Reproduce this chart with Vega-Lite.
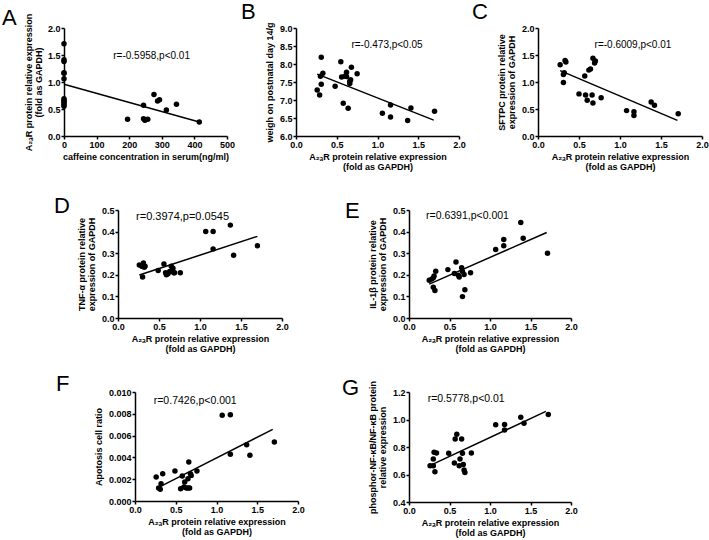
{
  "$schema": "https://vega.github.io/schema/vega-lite/v6.json",
  "padding": {"left": 2, "top": 0, "right": 2, "bottom": 2},
  "background": "white",
  "config": {
    "view": {"stroke": null},
    "font": "Liberation Sans",
    "axis": {"domainColor": "black", "domainWidth": 1.5, "tickColor": "black", "tickWidth": 1.5, "tickSize": 3, "labelPadding": 1, "labelFont": "Liberation Sans", "labelFontSize": 9, "labelFontWeight": "bold", "labelColor": "black", "titleFont": "Liberation Sans", "titleFontSize": 9, "titleFontWeight": "bold", "titleColor": "black", "grid": false, "titleLineHeight": 10, "labelFlush": false, "labelOverlap": false},
    "axisX": {"titlePadding": 3},
    "axisY": {"titlePadding": 5},
    "title": {"font": "Liberation Sans", "fontSize": 22, "fontWeight": "normal", "color": "black", "anchor": "start", "frame": "group", "baseline": "alphabetic"},
    "text": {"font": "Liberation Sans", "fontSize": 10, "color": "black"}
  },
  "datasets": {
    "points": [
      {"panel":"A","x":0,"y":1.71},{"panel":"A","x":0,"y":1.41},{"panel":"A","x":0,"y":1.38},{"panel":"A","x":0,"y":1.17},{"panel":"A","x":0,"y":1.16},{"panel":"A","x":0,"y":1.06},{"panel":"A","x":0,"y":0.69},{"panel":"A","x":0,"y":0.66},{"panel":"A","x":0,"y":0.64},{"panel":"A","x":0,"y":0.61},{"panel":"A","x":0,"y":0.58},{"panel":"A","x":0,"y":0.55},
      {"panel":"A","x":195,"y":0.31},{"panel":"A","x":244,"y":0.57},{"panel":"A","x":244,"y":0.32},{"panel":"A","x":248,"y":0.29},{"panel":"A","x":250,"y":0.30},{"panel":"A","x":257,"y":0.31},{"panel":"A","x":276,"y":0.77},{"panel":"A","x":287,"y":0.65},{"panel":"A","x":293,"y":0.67},{"panel":"A","x":314,"y":0.48},{"panel":"A","x":345,"y":0.59},{"panel":"A","x":415,"y":0.26},
      {"panel":"B","x":0.26,"y":7.28},{"panel":"B","x":0.29,"y":7.14},{"panel":"B","x":0.30,"y":7.66},{"panel":"B","x":0.31,"y":7.44},{"panel":"B","x":0.31,"y":8.19},{"panel":"B","x":0.33,"y":7.74},{"panel":"B","x":0.48,"y":7.38},{"panel":"B","x":0.55,"y":8.06},{"panel":"B","x":0.56,"y":7.64},{"panel":"B","x":0.58,"y":6.91},{"panel":"B","x":0.60,"y":7.66},{"panel":"B","x":0.62,"y":7.77},{"panel":"B","x":0.62,"y":7.65},{"panel":"B","x":0.64,"y":6.77},{"panel":"B","x":0.66,"y":7.52},{"panel":"B","x":0.67,"y":7.56},{"panel":"B","x":0.66,"y":7.46},{"panel":"B","x":0.68,"y":7.91},{"panel":"B","x":0.75,"y":7.73},{"panel":"B","x":1.06,"y":6.63},{"panel":"B","x":1.16,"y":6.86},{"panel":"B","x":1.16,"y":6.53},{"panel":"B","x":1.37,"y":6.43},{"panel":"B","x":1.41,"y":6.78},{"panel":"B","x":1.70,"y":6.69},
      {"panel":"C","x":0.27,"y":1.32},{"panel":"C","x":0.31,"y":1.14},{"panel":"C","x":0.31,"y":0.99},{"panel":"C","x":0.32,"y":1.17},{"panel":"C","x":0.33,"y":1.40},{"panel":"C","x":0.34,"y":1.37},{"panel":"C","x":0.50,"y":0.78},{"panel":"C","x":0.57,"y":1.11},{"panel":"C","x":0.58,"y":0.76},{"panel":"C","x":0.60,"y":0.66},{"panel":"C","x":0.62,"y":1.22},{"panel":"C","x":0.64,"y":1.24},{"panel":"C","x":0.66,"y":0.76},{"panel":"C","x":0.67,"y":1.44},{"panel":"C","x":0.67,"y":0.61},{"panel":"C","x":0.69,"y":1.35},{"panel":"C","x":0.70,"y":1.39},{"panel":"C","x":0.77,"y":0.71},{"panel":"C","x":1.08,"y":0.47},{"panel":"C","x":1.17,"y":0.45},{"panel":"C","x":1.17,"y":0.38},{"panel":"C","x":1.38,"y":0.63},{"panel":"C","x":1.42,"y":0.57},{"panel":"C","x":1.71,"y":0.41},
      {"panel":"D","x":0.26,"y":0.245},{"panel":"D","x":0.29,"y":0.24},{"panel":"D","x":0.30,"y":0.19},{"panel":"D","x":0.31,"y":0.255},{"panel":"D","x":0.32,"y":0.235},{"panel":"D","x":0.33,"y":0.24},{"panel":"D","x":0.49,"y":0.22},{"panel":"D","x":0.56,"y":0.25},{"panel":"D","x":0.58,"y":0.21},{"panel":"D","x":0.59,"y":0.20},{"panel":"D","x":0.61,"y":0.205},{"panel":"D","x":0.63,"y":0.215},{"panel":"D","x":0.65,"y":0.24},{"panel":"D","x":0.66,"y":0.22},{"panel":"D","x":0.67,"y":0.23},{"panel":"D","x":0.68,"y":0.21},{"panel":"D","x":0.69,"y":0.21},{"panel":"D","x":0.76,"y":0.21},{"panel":"D","x":1.07,"y":0.40},{"panel":"D","x":1.16,"y":0.40},{"panel":"D","x":1.16,"y":0.32},{"panel":"D","x":1.37,"y":0.43},{"panel":"D","x":1.41,"y":0.29},{"panel":"D","x":1.70,"y":0.335},
      {"panel":"E","x":0.25,"y":0.175},{"panel":"E","x":0.28,"y":0.18},{"panel":"E","x":0.30,"y":0.186},{"panel":"E","x":0.31,"y":0.195},{"panel":"E","x":0.30,"y":0.142},{"panel":"E","x":0.32,"y":0.127},{"panel":"E","x":0.33,"y":0.216},{"panel":"E","x":0.48,"y":0.224},{"panel":"E","x":0.56,"y":0.206},{"panel":"E","x":0.58,"y":0.259},{"panel":"E","x":0.61,"y":0.198},{"panel":"E","x":0.62,"y":0.19},{"panel":"E","x":0.65,"y":0.233},{"panel":"E","x":0.66,"y":0.216},{"panel":"E","x":0.66,"y":0.099},{"panel":"E","x":0.68,"y":0.201},{"panel":"E","x":0.69,"y":0.131},{"panel":"E","x":0.76,"y":0.209},{"panel":"E","x":1.07,"y":0.317},{"panel":"E","x":1.17,"y":0.335},{"panel":"E","x":1.17,"y":0.363},{"panel":"E","x":1.38,"y":0.442},{"panel":"E","x":1.41,"y":0.369},{"panel":"E","x":1.71,"y":0.300},
      {"panel":"F","x":0.26,"y":0.0022},{"panel":"F","x":0.29,"y":0.00119},{"panel":"F","x":0.31,"y":0.00107},{"panel":"F","x":0.32,"y":0.00159},{"panel":"F","x":0.34,"y":0.00251},{"panel":"F","x":0.49,"y":0.00275},{"panel":"F","x":0.56,"y":0.00113},{"panel":"F","x":0.58,"y":0.00229},{"panel":"F","x":0.60,"y":0.00128},{"panel":"F","x":0.61,"y":0.00174},{"panel":"F","x":0.63,"y":0.00119},{"panel":"F","x":0.65,"y":0.00119},{"panel":"F","x":0.66,"y":0.00358},{"panel":"F","x":0.65,"y":0.00205},{"panel":"F","x":0.67,"y":0.00119},{"panel":"F","x":0.68,"y":0.00251},{"panel":"F","x":0.69,"y":0.00235},{"panel":"F","x":0.76,"y":0.00275},{"panel":"F","x":1.07,"y":0.00786},{"panel":"F","x":1.17,"y":0.00792},{"panel":"F","x":1.17,"y":0.00428},{"panel":"F","x":1.37,"y":0.00517},{"panel":"F","x":1.41,"y":0.00419},{"panel":"F","x":1.71,"y":0.00541},
      {"panel":"G","x":0.26,"y":0.663},{"panel":"G","x":0.30,"y":0.712},{"panel":"G","x":0.30,"y":0.663},{"panel":"G","x":0.31,"y":0.761},{"panel":"G","x":0.32,"y":0.620},{"panel":"G","x":0.34,"y":0.756},{"panel":"G","x":0.49,"y":0.754},{"panel":"G","x":0.56,"y":0.683},{"panel":"G","x":0.57,"y":0.859},{"panel":"G","x":0.59,"y":0.893},{"panel":"G","x":0.62,"y":0.663},{"panel":"G","x":0.63,"y":0.712},{"panel":"G","x":0.65,"y":0.859},{"panel":"G","x":0.66,"y":0.754},{"panel":"G","x":0.67,"y":0.673},{"panel":"G","x":0.68,"y":0.632},{"panel":"G","x":0.69,"y":0.615},{"panel":"G","x":0.77,"y":0.756},{"panel":"G","x":1.07,"y":0.961},{"panel":"G","x":1.18,"y":0.963},{"panel":"G","x":1.18,"y":0.924},{"panel":"G","x":1.38,"y":1.017},{"panel":"G","x":1.42,"y":0.973},{"panel":"G","x":1.72,"y":1.037}
    ],
    "fits": [
      {"panel":"A","x":0,"y":0.957,"x2":415,"y2":0.26,"tx":151,"ty":1.49,"label":"r=-0.5958,p<0.01"},
      {"panel":"B","x":0.26,"y":7.72,"x2":1.69,"y2":6.44,"tx":0.68,"ty":8.54,"label":"r=-0.473,p<0.05"},
      {"panel":"C","x":0.27,"y":1.21,"x2":1.70,"y2":0.29,"tx":0.69,"ty":1.68,"label":"r=-0.6009,p<0.01"},
      {"panel":"D","x":0.26,"y":0.199,"x2":1.70,"y2":0.378,"tx":0.22,"ty":0.466,"label":"r=0.3974,p=0.0545"},
      {"panel":"E","x":0.25,"y":0.157,"x2":1.70,"y2":0.396,"tx":0.21,"ty":0.473,"label":"r=0.6391,p<0.001"},
      {"panel":"F","x":0.26,"y":0.00113,"x2":1.69,"y2":0.00657,"tx":0.23,"ty":0.00914,"label":"r=0.7426,p<0.001"},
      {"panel":"G","x":0.25,"y":0.663,"x2":1.69,"y2":1.059,"tx":0.23,"ty":1.151,"label":"r=0.5778,p<0.01"}
    ]
  },
  "spacing": 24,
  "vconcat": [
    {
      "hconcat": [
        {
          "width": 163, "height": 108,
          "title": {"text": "A", "dx": -62, "offset": -17},
          "encoding": {
            "x": {"field": "x", "type": "quantitative", "scale": {"domain": [0, 500], "nice": false, "zero": false}, "axis": {"values": [0, 100, 200, 300, 400, 500], "format": "d", "title": "caffeine concentration in serum(ng/ml)"}},
            "y": {"field": "y", "type": "quantitative", "scale": {"domain": [0, 2], "nice": false, "zero": false}, "axis": {"values": [0, 0.5, 1, 1.5, 2], "format": ".1f", "titleX": -31, "title": ["A₂ₐR protein relative expression", "(fold as GAPDH)"]}}
          },
          "layer": [
            {"data": {"name": "points"}, "transform": [{"filter": "datum.panel == 'A'"}], "mark": {"type": "circle", "size": 30, "color": "black", "opacity": 1}},
            {"data": {"name": "fits"}, "transform": [{"filter": "datum.panel == 'A'"}], "mark": {"type": "rule", "color": "black", "strokeWidth": 1.5}, "encoding": {"x2": {"field": "x2"}, "y2": {"field": "y2"}}},
            {"data": {"name": "fits"}, "transform": [{"filter": "datum.panel == 'A'"}], "mark": {"type": "text", "align": "left", "baseline": "middle", "fontSize": 10}, "encoding": {"x": {"field": "tx", "type": "quantitative"}, "y": {"field": "ty", "type": "quantitative"}, "text": {"field": "label"}}}
          ]
        },
        {
          "hconcat": [
            {
              "width": 163, "height": 108,
              "title": {"text": "B", "dx": -55, "offset": -2},
              "encoding": {
                "x": {"field": "x", "type": "quantitative", "scale": {"domain": [0, 2], "nice": false, "zero": false}, "axis": {"values": [0, 0.5, 1, 1.5, 2], "format": ".1f", "title": ["A₂ₐR protein relative expression", "(fold as GAPDH)"]}},
                "y": {"field": "y", "type": "quantitative", "scale": {"domain": [6, 9], "nice": false, "zero": false}, "axis": {"values": [6, 6.5, 7, 7.5, 8, 8.5, 9], "format": ".1f", "title": "weigh on postnatal day 14/g"}}
              },
              "layer": [
                {"data": {"name": "points"}, "transform": [{"filter": "datum.panel == 'B'"}], "mark": {"type": "circle", "size": 30, "color": "black", "opacity": 1}},
                {"data": {"name": "fits"}, "transform": [{"filter": "datum.panel == 'B'"}], "mark": {"type": "rule", "color": "black", "strokeWidth": 1.5}, "encoding": {"x2": {"field": "x2"}, "y2": {"field": "y2"}}},
                {"data": {"name": "fits"}, "transform": [{"filter": "datum.panel == 'B'"}], "mark": {"type": "text", "align": "left", "baseline": "middle", "fontSize": 10}, "encoding": {"x": {"field": "tx", "type": "quantitative"}, "y": {"field": "ty", "type": "quantitative"}, "text": {"field": "label"}}}
              ]
            },
            {
              "width": 164, "height": 108,
              "title": {"text": "C", "dx": -66, "offset": 0},
              "encoding": {
                "x": {"field": "x", "type": "quantitative", "scale": {"domain": [0, 2], "nice": false, "zero": false}, "axis": {"values": [0, 0.5, 1, 1.5, 2], "format": ".1f", "title": ["A₂ₐR protein relative expression", "(fold as GAPDH)"]}},
                "y": {"field": "y", "type": "quantitative", "scale": {"domain": [0, 2], "nice": false, "zero": false}, "axis": {"values": [0, 0.5, 1, 1.5, 2], "format": ".1f", "title": ["SFTPC protein relative", "expression of GAPDH"]}}
              },
              "layer": [
                {"data": {"name": "points"}, "transform": [{"filter": "datum.panel == 'C'"}], "mark": {"type": "circle", "size": 30, "color": "black", "opacity": 1}},
                {"data": {"name": "fits"}, "transform": [{"filter": "datum.panel == 'C'"}], "mark": {"type": "rule", "color": "black", "strokeWidth": 1.5}, "encoding": {"x2": {"field": "x2"}, "y2": {"field": "y2"}}},
                {"data": {"name": "fits"}, "transform": [{"filter": "datum.panel == 'C'"}], "mark": {"type": "text", "align": "left", "baseline": "middle", "fontSize": 10}, "encoding": {"x": {"field": "tx", "type": "quantitative"}, "y": {"field": "ty", "type": "quantitative"}, "text": {"field": "label"}}}
              ]
            }
          ],
          "spacing": 79, "bounds": "flush"
        }
      ],
      "spacing": 69, "bounds": "flush"
    },
    {
      "spacing": 20,
      "vconcat": [
        {
          "hconcat": [
            {"width": 54, "height": 1, "data": {"values": []}, "mark": "point", "encoding": {}},
            {
              "hconcat": [
                {
                  "width": 164, "height": 108,
                  "title": {"text": "D", "dx": -64, "offset": -12},
                  "encoding": {
                    "x": {"field": "x", "type": "quantitative", "scale": {"domain": [0, 2], "nice": false, "zero": false}, "axis": {"values": [0, 0.5, 1, 1.5, 2], "format": ".1f", "title": ["A₂ₐR protein relative expression", "(fold as GAPDH)"]}},
                    "y": {"field": "y", "type": "quantitative", "scale": {"domain": [0, 0.5], "nice": false, "zero": false}, "axis": {"values": [0, 0.1, 0.2, 0.3, 0.4, 0.5], "format": ".1f", "title": ["TNF-α protein relative", "expression of GAPDH"]}}
                  },
                  "layer": [
                    {"data": {"name": "points"}, "transform": [{"filter": "datum.panel == 'D'"}], "mark": {"type": "circle", "size": 30, "color": "black", "opacity": 1}},
                    {"data": {"name": "fits"}, "transform": [{"filter": "datum.panel == 'D'"}], "mark": {"type": "rule", "color": "black", "strokeWidth": 1.5}, "encoding": {"x2": {"field": "x2"}, "y2": {"field": "y2"}}},
                    {"data": {"name": "fits"}, "transform": [{"filter": "datum.panel == 'D'"}], "mark": {"type": "text", "align": "left", "baseline": "middle", "fontSize": 11}, "encoding": {"x": {"field": "tx", "type": "quantitative"}, "y": {"field": "ty", "type": "quantitative"}, "text": {"field": "label"}}}
                  ]
                },
                {
                  "width": 162, "height": 108,
                  "title": {"text": "E", "dx": -64, "offset": -17},
                  "encoding": {
                    "x": {"field": "x", "type": "quantitative", "scale": {"domain": [0, 2], "nice": false, "zero": false}, "axis": {"values": [0, 0.5, 1, 1.5, 2], "format": ".1f", "title": ["A₂ₐR protein relative expression", "(fold as GAPDH)"]}},
                    "y": {"field": "y", "type": "quantitative", "scale": {"domain": [0, 0.5], "nice": false, "zero": false}, "axis": {"values": [0, 0.1, 0.2, 0.3, 0.4, 0.5], "format": ".1f", "title": ["IL-1β protein relative", "expression of GAPDH"]}}
                  },
                  "layer": [
                    {"data": {"name": "points"}, "transform": [{"filter": "datum.panel == 'E'"}], "mark": {"type": "circle", "size": 30, "color": "black", "opacity": 1}},
                    {"data": {"name": "fits"}, "transform": [{"filter": "datum.panel == 'E'"}], "mark": {"type": "rule", "color": "black", "strokeWidth": 1.5}, "encoding": {"x2": {"field": "x2"}, "y2": {"field": "y2"}}},
                    {"data": {"name": "fits"}, "transform": [{"filter": "datum.panel == 'E'"}], "mark": {"type": "text", "align": "left", "baseline": "middle", "fontSize": 10.5}, "encoding": {"x": {"field": "tx", "type": "quantitative"}, "y": {"field": "ty", "type": "quantitative"}, "text": {"field": "label"}}}
                  ]
                }
              ],
              "spacing": 127, "bounds": "flush"
            }
          ],
          "spacing": 0, "bounds": "flush"
        },
        {
          "hconcat": [
            {"width": 71, "height": 1, "data": {"values": []}, "mark": "point", "encoding": {}},
            {
              "hconcat": [
                {
                  "width": 163, "height": 109,
                  "title": {"text": "F", "dx": -79, "offset": -8},
                  "encoding": {
                    "x": {"field": "x", "type": "quantitative", "scale": {"domain": [0, 2], "nice": false, "zero": false}, "axis": {"values": [0, 0.5, 1, 1.5, 2], "format": ".1f", "title": ["A₂ₐR protein relative expression", "(fold as GAPDH)"]}},
                    "y": {"field": "y", "type": "quantitative", "scale": {"domain": [0, 0.01], "nice": false, "zero": false}, "axis": {"values": [0, 0.002, 0.004, 0.006, 0.008, 0.01], "format": ".3f", "title": "Apotosis cell ratio"}}
                  },
                  "layer": [
                    {"data": {"name": "points"}, "transform": [{"filter": "datum.panel == 'F'"}], "mark": {"type": "circle", "size": 30, "color": "black", "opacity": 1}},
                    {"data": {"name": "fits"}, "transform": [{"filter": "datum.panel == 'F'"}], "mark": {"type": "rule", "color": "black", "strokeWidth": 1.5}, "encoding": {"x2": {"field": "x2"}, "y2": {"field": "y2"}}},
                    {"data": {"name": "fits"}, "transform": [{"filter": "datum.panel == 'F'"}], "mark": {"type": "text", "align": "left", "baseline": "middle", "fontSize": 10.5}, "encoding": {"x": {"field": "tx", "type": "quantitative"}, "y": {"field": "ty", "type": "quantitative"}, "text": {"field": "label"}}}
                  ]
                },
                {
                  "width": 162, "height": 110,
                  "title": {"text": "G", "dx": -67, "offset": -20},
                  "encoding": {
                    "x": {"field": "x", "type": "quantitative", "scale": {"domain": [0, 2], "nice": false, "zero": false}, "axis": {"values": [0, 0.5, 1, 1.5, 2], "format": ".1f", "title": ["A₂ₐR protein relative expression", "(fold as GAPDH)"]}},
                    "y": {"field": "y", "type": "quantitative", "scale": {"domain": [0.4, 1.2], "nice": false, "zero": false}, "axis": {"values": [0.4, 0.6, 0.8, 1, 1.2], "format": ".1f", "title": ["phosphor-NF-κB/NF-κB protein", "relative expression"]}}
                  },
                  "layer": [
                    {"data": {"name": "points"}, "transform": [{"filter": "datum.panel == 'G'"}], "mark": {"type": "circle", "size": 30, "color": "black", "opacity": 1}},
                    {"data": {"name": "fits"}, "transform": [{"filter": "datum.panel == 'G'"}], "mark": {"type": "rule", "color": "black", "strokeWidth": 1.5}, "encoding": {"x2": {"field": "x2"}, "y2": {"field": "y2"}}},
                    {"data": {"name": "fits"}, "transform": [{"filter": "datum.panel == 'G'"}], "mark": {"type": "text", "align": "left", "baseline": "middle", "fontSize": 10.5}, "encoding": {"x": {"field": "tx", "type": "quantitative"}, "y": {"field": "ty", "type": "quantitative"}, "text": {"field": "label"}}}
                  ]
                }
              ],
              "spacing": 111, "bounds": "flush"
            }
          ],
          "spacing": 0, "bounds": "flush"
        }
      ]
    }
  ]
}
